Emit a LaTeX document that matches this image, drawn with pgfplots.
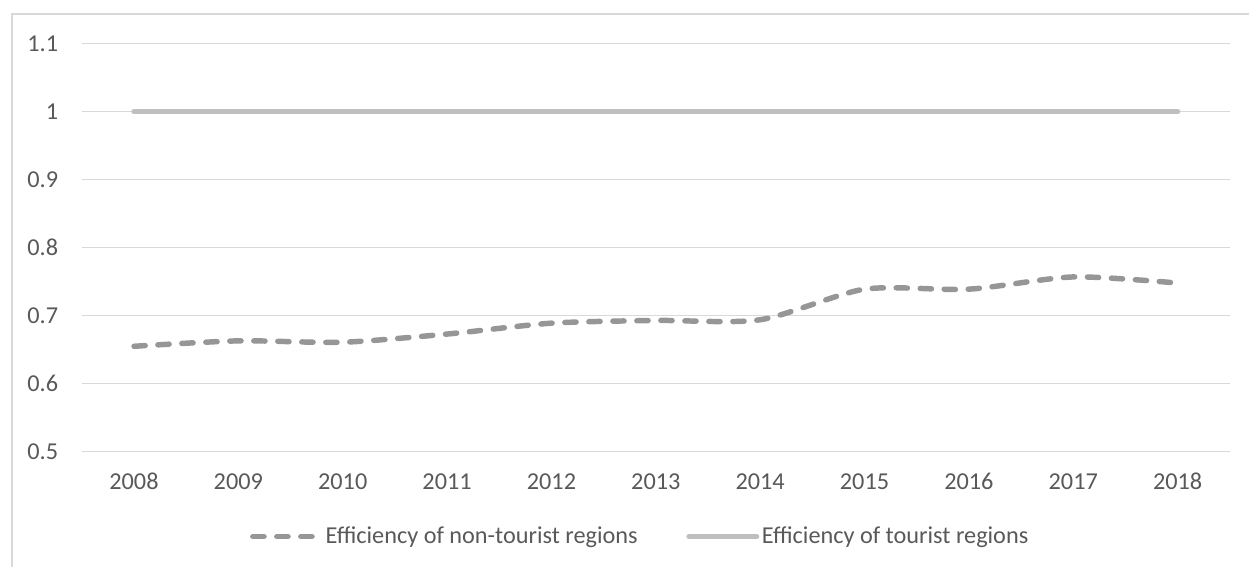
\documentclass[border=0pt]{standalone}
\usepackage{pgfplots}
\pgfplotsset{compat=1.18}
\usepackage{fontspec}
\setmainfont{Carlito}
\definecolor{gridc}{HTML}{D9D9D9}
\definecolor{txt}{HTML}{595959}
\definecolor{dashc}{HTML}{969696}
\definecolor{solidc}{HTML}{BFBFBF}
\begin{document}
\begin{tikzpicture}
\useasboundingbox (0pt,0pt) rectangle (936.75pt,425.25pt);
\draw[gridc, line width=1pt] (9pt,-5pt) -- (9pt,414.75pt) -- (940pt,414.75pt);
\begin{axis}[
  at={(61.35pt,86.475pt)}, anchor=south west,
  scale only axis, width=861pt, height=306pt,
  xmin=2007.5, xmax=2018.5, ymin=0.5, ymax=1.1,
  xtick={2008,2009,2010,2011,2012,2013,2014,2015,2016,2017,2018},
  ytick={0.5,0.6,0.7,0.8,0.9,1,1.1},
  axis line style={draw=none}, major tick length=0pt,
  ymajorgrids, major grid style={gridc, line width=0.75pt},
  tick label style={font=\fontsize{18.2}{22}\selectfont, text=txt},
  /pgf/number format/assume math mode=true,
  xticklabel style={/pgf/number format/1000 sep={}, anchor=north, inner sep=0pt, yshift=-16pt},
  yticklabel style={anchor=east, inner sep=0pt, xshift=-17.6pt},
  legend columns=2,
  legend style={at={(0.4867,-0.208)}, anchor=center, draw=none, fill=none,
    font=\fontsize{18.2}{22}\selectfont, text=txt,
    /tikz/every even column/.append style={column sep=34.5pt}},
  legend image code/.code={\draw[#1] (2pt,0pt) -- (52.6pt,0pt);},
]
\addplot[smooth, tension=0.45, dashc, line width=4.1pt, line cap=round, dash pattern=on 8.4pt off 9.6pt] coordinates {
 (2008,0.655) (2009,0.663) (2010,0.661) (2011,0.673) (2012,0.689) (2013,0.693)
 (2014,0.694) (2015,0.739) (2016,0.739) (2017,0.757) (2018,0.748)};
\addlegendentry{Efficiency of non-tourist regions}
\addplot[solidc, line width=4.1pt, line cap=round] coordinates {
 (2008,1) (2009,1) (2010,1) (2011,1) (2012,1) (2013,1)
 (2014,1) (2015,1) (2016,1) (2017,1) (2018,1)};
\addlegendentry{Efficiency of tourist regions}
\end{axis}
\end{tikzpicture}
\end{document}
